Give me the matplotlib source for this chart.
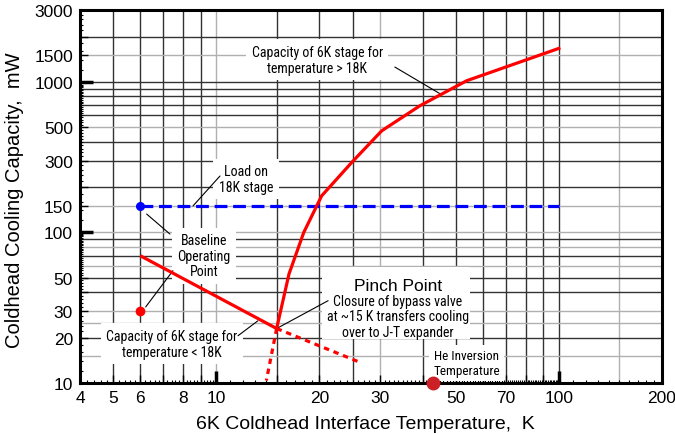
import matplotlib
matplotlib.use('Agg')
import matplotlib.pyplot as plt
from matplotlib import font_manager
from matplotlib.patches import Rectangle
from matplotlib.ticker import NullFormatter
import numpy as np

# load on the 18K stage (blue dashed)
load_T = [6, 100]
load_Q = [150, 150]
# 6K stage capacity, temperature < 18K
low_T = [6, 15]
low_Q = [70, 23]
# 6K stage capacity, temperature > 18K
high_T = [15, 16.3, 18, 20.3, 25, 30.4, 39.3, 53.8, 100]
high_Q = [23, 53, 100, 175, 296, 473, 694, 1017, 1668]
# dotted continuations past the pinch point
ext1_T = [15, 14.0]
ext1_Q = [23, 10.4]
ext2_T = [15, 26.3]
ext2_Q = [23, 13.7]
# baseline operating point
base_T = 6
base_Q_load = 150
base_Q_cap = 30
# He inversion temperature
he_T = 43
he_Q = 10

xtick_vals = [4, 5, 6, 8, 10, 20, 30, 50, 70, 100, 200]
ytick_vals = [10, 20, 30, 50, 100, 150, 300, 500, 1000, 1500, 3000]

xgrid_dark = [5, 6, 7, 8, 9, 15, 20, 25, 40, 50, 60, 70, 80, 90, 100]
xgrid_light = [10, 30, 150]
ygrid_dark = [20, 40, 50, 70, 90, 200, 300, 400, 600, 700, 800, 900, 1000, 2000]
ygrid_light = [15, 25, 30, 60, 80, 100, 150, 500, 1500]

names = {f.name for f in font_manager.fontManager.ttflist}
narrow = 'Liberation Sans'
nsize = 8.6
for cand in ['Liberation Sans Narrow', 'Roboto Condensed', 'DejaVu Sans Condensed']:
    if cand in names:
        narrow = cand
        nsize = 10.0
        break
plt.rcParams['font.family'] = ['Liberation Sans', 'DejaVu Sans']

fig = plt.figure(figsize=(6.75, 4.35), dpi=100)
ax = fig.add_axes([80 / 675, 1 - 384 / 435, 582 / 675, 373 / 435])
ax.set_xscale('log')
ax.set_yscale('log')
ax.set_xlim(4, 200)
ax.set_ylim(10, 3000)

for xv in xgrid_dark:
    ax.axvline(xv, color='#333333', lw=1.0, zorder=0.5)
for xv in xgrid_light:
    ax.axvline(xv, color='#b0b0b0', lw=1.0, zorder=0.5)
for yv in ygrid_dark:
    ax.axhline(yv, color='#333333', lw=1.0, zorder=0.5)
for yv in ygrid_light:
    ax.axhline(yv, color='#b0b0b0', lw=1.0, zorder=0.5)

# curves
ax.plot(load_T, load_Q, color='#0000ff', lw=2.3, dashes=(4, 1.8), zorder=4)
ax.plot(low_T, low_Q, color='#ff0000', lw=2.3, zorder=4, solid_capstyle='butt')
ax.plot(high_T, high_Q, color='#ff0000', lw=2.3, zorder=4, solid_joinstyle='round')
ax.plot(ext1_T, ext1_Q, color='#ff0000', lw=2.3, dashes=(1.7, 1.5), zorder=4)
ax.plot(ext2_T, ext2_Q, color='#ff0000', lw=2.3, dashes=(1.7, 1.5), zorder=4)
ax.plot([base_T], [base_Q_load], 'o', color='#0000ff', ms=5.5, zorder=5)
ax.plot([base_T], [base_Q_cap], 'o', color='#ff0000', ms=6, zorder=5)
ax.plot([he_T], [he_Q], 'o', color='#cc2027', ms=9, zorder=6, clip_on=False)

# ticks: labelled majors, medium and fine minors, long ones at decades
x_mid = [7, 9, 15, 40, 60, 80, 90]
x_fine = [round(v, 1) for v in np.arange(4.2, 10, 0.2)] + list(range(11, 100)) + list(range(110, 200, 10))
x_minor = sorted(set(x_fine + x_mid) - set(xtick_vals))
y_mid = [40, 200, 2000]
y_fine = list(range(12, 100, 2)) + list(range(120, 1000, 20)) + list(range(1200, 3000, 200))
y_minor = sorted(set(y_fine + y_mid) - set(ytick_vals))

ax.set_xticks(xtick_vals)
ax.set_xticklabels([str(v) for v in xtick_vals])
ax.set_xticks(x_minor, minor=True)
ax.xaxis.set_minor_formatter(NullFormatter())
ax.set_yticks(ytick_vals)
ax.set_yticklabels([str(v) for v in ytick_vals])
ax.set_yticks(y_minor, minor=True)
ax.yaxis.set_minor_formatter(NullFormatter())
ax.tick_params(which='major', direction='in', length=6, width=1, labelsize=12.5,
               top=False, right=False, pad=5)
ax.tick_params(which='minor', direction='in', length=2.5, width=0.8, top=False, right=False)

for v, t in zip(xtick_vals, ax.xaxis.get_major_ticks(len(xtick_vals))):
    if v in (10, 100):
        t.tick1line.set_markersize(9)
        t.tick1line.set_markeredgewidth(2.5)
for v, t in zip(x_minor, ax.xaxis.get_minor_ticks(len(x_minor))):
    if v in x_mid:
        t.tick1line.set_markersize(6)
        t.tick1line.set_markeredgewidth(1)
for v, t in zip(ytick_vals, ax.yaxis.get_major_ticks(len(ytick_vals))):
    if v in (100, 1000):
        t.tick1line.set_markersize(9)
        t.tick1line.set_markeredgewidth(2.5)
for v, t in zip(y_minor, ax.yaxis.get_minor_ticks(len(y_minor))):
    if v in y_mid:
        t.tick1line.set_markersize(6)
        t.tick1line.set_markeredgewidth(1)

for s in ax.spines.values():
    s.set_linewidth(2.2)
    s.set_color('black')

fig.text(365 / 675, 1 - 425 / 435, '6K Coldhead Interface Temperature,  K',
         ha='center', va='center', fontsize=14)
fig.text(15 / 675, 1 - 200 / 435, 'Coldhead Cooling Capacity,  mW',
         ha='center', va='center', rotation=90, fontsize=14.5)

# annotations
box = dict(facecolor='white', edgecolor='none', pad=4)
line = dict(arrowstyle='-', color='black', lw=0.8, shrinkA=0, shrinkB=0)
tkw = dict(ha='center', va='center', family=[narrow, 'DejaVu Sans'], fontsize=nsize,
           linespacing=1.15, bbox=box, zorder=2)

ax.text(19.7, 1400, 'Capacity of 6K stage for\ntemperature > 18K', **tkw)
ax.annotate('', xy=(45.5, 821), xytext=(33.2, 1254), arrowprops=line, zorder=3)

ax.text(12.2, 226, 'Load on\n18K stage', **tkw)
ax.annotate('', xy=(8.55, 150), xytext=(10.25, 237), arrowprops=line, zorder=3)

ax.text(9.2, 70, 'Baseline\nOperating\nPoint', **tkw)
ax.annotate('', xy=(6.26, 132.5), xytext=(7.32, 97.6), arrowprops=line, zorder=3)
ax.annotate('', xy=(6.22, 32), xytext=(7.47, 55.7), arrowprops=line, zorder=3)

ax.text(7.41, 18.2, 'Capacity of 6K stage for\ntemperature < 18K', **tkw)
ax.annotate('', xy=(13.23, 25.9), xytext=(11.57, 20.6), arrowprops=line, zorder=3)

# white panel behind the pinch point note
ax.add_patch(Rectangle((0.416, 0.118), 0.254, 0.193, transform=ax.transAxes,
                       facecolor='white', edgecolor='none', zorder=1.5))
ax.text(33.9, 27.7, 'Closure of bypass valve\nat ~15 K transfers cooling\nover to J-T expander',
        ha='center', va='center', family=[narrow, 'DejaVu Sans'], fontsize=nsize,
        linespacing=1.15, zorder=2)
ax.text(33.9, 44.7, 'Pinch Point', ha='center', va='center', fontsize=12.5, zorder=2)
ax.annotate('', xy=(15, 23), xytext=(21.2, 35.2), arrowprops=line, zorder=3)

ax.text(53.8, 13.6, 'He Inversion\nTemperature', ha='center', va='center',
        family=[narrow, 'DejaVu Sans'], fontsize=nsize - 0.5, linespacing=1.15,
        bbox=dict(facecolor='white', edgecolor='none', pad=3), zorder=2)

fig.savefig('out.png', dpi=100)
